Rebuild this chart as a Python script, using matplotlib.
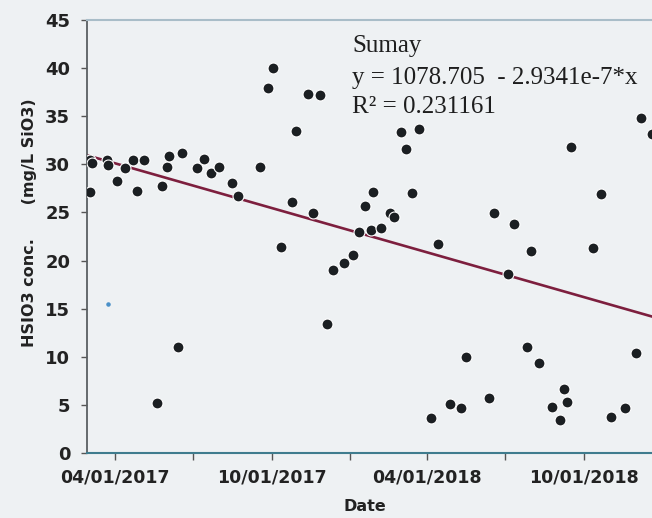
import datetime as dt

import matplotlib
matplotlib.use("Agg")
import matplotlib.pyplot as plt
import matplotlib.dates as mdates

# Sumay station: HSiO3 concentration by sampling date
DATES = [
    "2017-03-02", "2017-03-05", "2017-03-03", "2017-03-23", "2017-03-24",
    "2017-04-03", "2017-04-13", "2017-04-22", "2017-04-27", "2017-05-05",
    "2017-05-20", "2017-05-26", "2017-06-01", "2017-06-03", "2017-06-13",
    "2017-06-18", "2017-07-06", "2017-07-14", "2017-07-22", "2017-07-31",
    "2017-08-16", "2017-08-23", "2017-09-17", "2017-09-27", "2017-10-03",
    "2017-10-12", "2017-10-25", "2017-10-30", "2017-11-12", "2017-11-18",
    "2017-11-27", "2017-12-05", "2017-12-12", "2017-12-25", "2018-01-04",
    "2018-01-11", "2018-01-18", "2018-01-25", "2018-01-28", "2018-02-06",
    "2018-02-16", "2018-02-21", "2018-03-01", "2018-03-07", "2018-03-14",
    "2018-03-22", "2018-04-05", "2018-04-14", "2018-04-28", "2018-05-11",
    "2018-05-16", "2018-06-12", "2018-06-18", "2018-07-04", "2018-07-12",
    "2018-07-27", "2018-08-01", "2018-08-10", "2018-08-25", "2018-09-03",
    "2018-09-08", "2018-09-12", "2018-09-16", "2018-10-12", "2018-10-21",
    "2018-11-02", "2018-11-18", "2018-12-01", "2018-12-07", "2018-12-20",
]
HSIO3 = [
    30.4, 30.1, 27.1, 30.4, 29.9,
    28.3, 29.6, 30.5, 27.2, 30.4,
    5.2, 27.7, 29.7, 30.9, 11.0,
    31.2, 29.6, 30.6, 29.1, 29.7,
    28.1, 26.7, 29.7, 37.9, 40.0,
    21.4, 26.1, 33.5, 37.3, 24.9,
    37.2, 13.4, 19.0, 19.7, 20.6,
    23.0, 25.7, 23.2, 27.1, 23.4,
    24.9, 24.5, 33.4, 31.6, 27.0,
    33.7, 3.6, 21.7, 5.1, 4.7,
    10.0, 5.7, 24.9, 18.6, 23.8,
    11.0, 21.0, 9.4, 4.8, 3.4,
    6.7, 5.3, 31.8, 21.3, 26.9,
    3.7, 4.7, 10.4, 34.8, 33.2,
]

# small blue mark near the left axis
STRAY_DATES = ["2017-03-24"]
STRAY_VALUES = [15.5]

# fit reported on the chart (x = seconds since 1904-01-01)
FIT_INTERCEPT = 1078.705
FIT_SLOPE = -2.9341e-7
EPOCH = dt.datetime(1904, 1, 1)

X_START = dt.datetime(2017, 2, 27)
X_END = dt.datetime(2018, 12, 20)

BG = "#eef1f3"


def to_dt(s):
    return dt.datetime.strptime(s, "%Y-%m-%d")


def fit(d):
    return FIT_INTERCEPT + FIT_SLOPE * (d - EPOCH).total_seconds()


dates = [to_dt(s) for s in DATES]

fig = plt.figure(figsize=(6.52, 5.18), dpi=100, facecolor=BG)
ax = fig.add_axes([0.1334, 0.1255, 0.8666, 0.8359], facecolor=BG)

# regression line
ax.plot([X_START, X_END], [fit(X_START), fit(X_END)],
        color="#7d1f3e", lw=1.9, zorder=2)

ax.scatter(dates, HSIO3, s=62, color="#1b1f22", edgecolors="white",
           linewidths=0.8, zorder=3)
ax.scatter([to_dt(s) for s in STRAY_DATES], STRAY_VALUES, s=5,
           color="#4a90c8", zorder=3)

ax.set_xlim(X_START, X_END)
ax.set_ylim(0, 45)
ax.set_yticks(range(0, 46, 5))

ax.xaxis.set_major_locator(mdates.MonthLocator(bymonth=[4, 10]))
ax.xaxis.set_minor_locator(mdates.MonthLocator(bymonth=[1, 7]))
ax.xaxis.set_major_formatter(mdates.DateFormatter("%m/%d/%Y"))

ax.tick_params(axis="both", which="both", direction="out", color="#555555",
               width=1.0)
ax.tick_params(axis="x", which="both", length=5, pad=6)
ax.tick_params(axis="y", length=4, pad=8)
for lab in ax.get_xticklabels():
    lab.set_fontsize(12.5)
    lab.set_fontweight("bold")
    lab.set_color("#222222")
for lab in ax.get_yticklabels():
    lab.set_fontsize(13)
    lab.set_fontweight("bold")
    lab.set_color("#222222")

ax.spines["left"].set_color("#5a5f62")
ax.spines["left"].set_linewidth(1.3)
ax.spines["bottom"].set_color("#3f7c8e")
ax.spines["bottom"].set_linewidth(1.5)
ax.spines["top"].set_color("#a9bdc8")
ax.spines["top"].set_linewidth(1.5)
ax.spines["right"].set_visible(False)

fig.text(0.5598, 0.008, "Date", ha="center", va="bottom",
         fontsize=11.5, fontweight="bold", color="#222222")
fig.text(0.046, 0.571, "HSIO3 conc.      (mg/L SiO3)", rotation=90,
         ha="center", va="center", fontsize=11.5, fontweight="bold",
         color="#222222")

serif = dict(family="Liberation Serif", fontsize=18, color="#1e1e1e",
             transform=ax.transAxes, va="baseline", ha="left")
ax.text(0.469, 0.926, "Sumay", **serif)
ax.text(0.469, 0.852, "y = 1078.705  - 2.9341e-7*x", **serif)
ax.text(0.469, 0.785, "R\u00b2 = 0.231161", **serif)

fig.savefig("out.png", dpi=100, facecolor=BG)
